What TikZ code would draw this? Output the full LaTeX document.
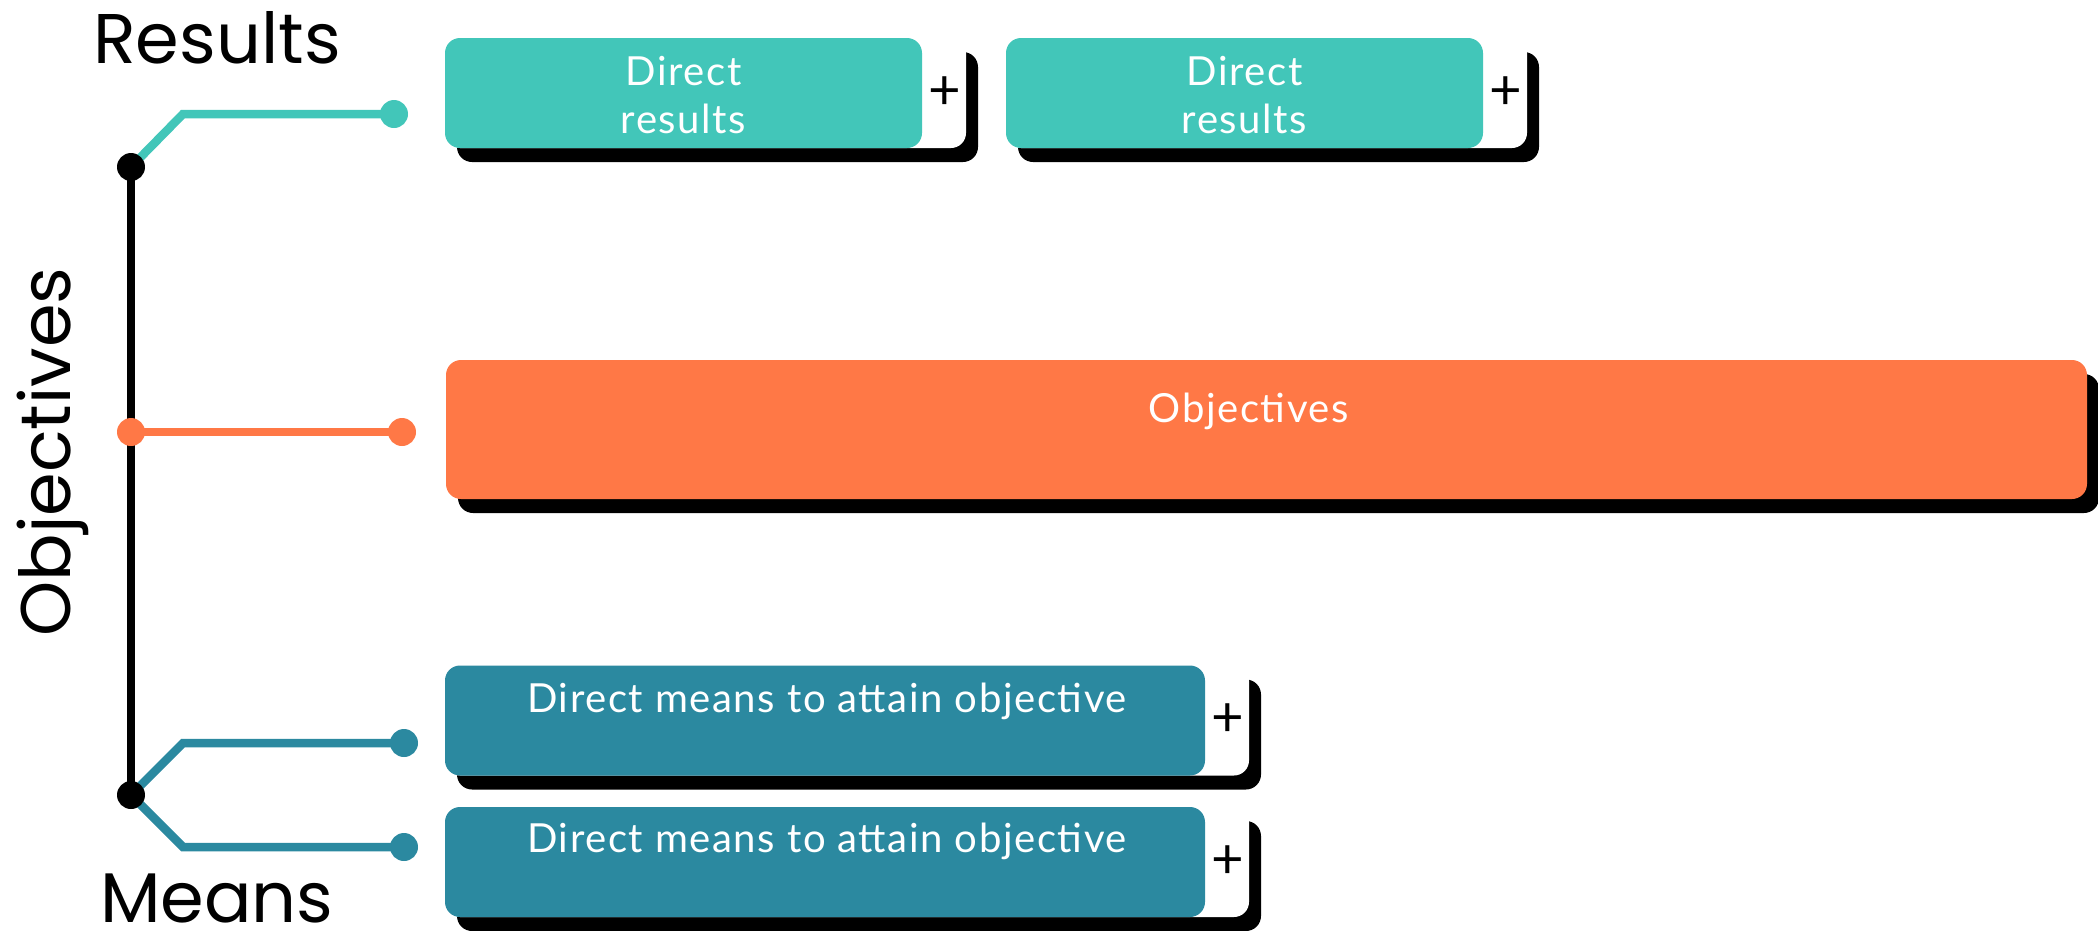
\documentclass[tikz,border=0pt]{standalone}
\usepackage{fontspec}
\setmainfont{Lato}
\newfontfamily\cardfont{Lato}[LetterSpace=4]
\newfontfamily\headfont{Poppins}
\usetikzlibrary{shadows,positioning}
\definecolor{resteal}{RGB}{66,198,185}
\definecolor{objorange}{RGB}{255,120,70}
\definecolor{meanblue}{RGB}{43,137,160}
\tikzset{
  card/.style={rounded corners=1.5mm, inner sep=0pt, minimum height=11mm,
    drop shadow={shadow xshift=1.2mm, shadow yshift=-1.4mm, fill=black, opacity=1}},
  tabcard/.style={card, fill=white, path picture={
    \fill[#1] (path picture bounding box.south west) rectangle ([xshift=-4.4mm]path picture bounding box.north east);}},
  cardtext/.style={text=white, align=center, font=\cardfont\fontsize{11.4}{13.6}\selectfont},
  plussign/.style={font=\fontsize{16}{16}\selectfont},
  sidelabel/.style={inner sep=0pt, font=\headfont\fontsize{20}{20}\selectfont},
  dot/.style={circle, fill=#1, inner sep=0pt, minimum size=2.8mm},
  branch/.style={draw=#1, line width=0.85mm}
}
\begin{document}
\begin{tikzpicture}[x=0.1mm, y=-0.1mm]
    \useasboundingbox (0,0) rectangle (2098,931);
    % Side labels
    \node[sidelabel, anchor=base] (reslabel) at (217,63) {Results};
    \node[sidelabel, anchor=base] (meanlabel) at (217,922) {Means};
    \node[sidelabel, anchor=base, rotate=90] (objlabel) at (70,452) {Objectives};
    % Joints on the spine and loose ends of the branches
    \coordinate (resjoint) at (131,167);
    \coordinate (objjoint) at (131,432);
    \coordinate (meanjoint) at (131,795);
    \coordinate (resend) at (394,114);
    \coordinate (objend) at (402,432);
    \coordinate (meanendA) at (404,743);
    \coordinate (meanendB) at (404,847);
    % Branches
    \draw[branch=resteal] (resjoint) -- ++(52,-53) -- (resend);
    \draw[branch=objorange] (objjoint) -- (objend);
    \draw[branch=meanblue] (meanjoint) -- ++(52,-52) -- (meanendA);
    \draw[branch=meanblue] (meanjoint) -- ++(52,52) -- (meanendB);
    \draw[line width=0.8mm] (resjoint) -- (meanjoint);
    \foreach \p/\c in {resjoint/black, objjoint/objorange, meanjoint/black,
                       resend/resteal, objend/objorange, meanendA/meanblue, meanendB/meanblue} {
      \node[dot=\c] (\p dot) at (\p) {};
    }
    % Cards
    \node[tabcard=resteal, minimum width=52.1mm] (resA) at (705.5,93) {};
    \node[tabcard=resteal, minimum width=52.1mm] (resB) at (1266.5,93) {};
    \node[card, fill=objorange, minimum width=164.1mm, minimum height=13.9mm] (objcard) at (1266.5,429.5) {};
    \node[tabcard=meanblue, minimum width=80.4mm] (meanA) at (847,720.5) {};
    \node[tabcard=meanblue, minimum width=80.4mm] (meanB) at (847,862) {};
    % Card texts
    \node[cardtext] (resAtext) at ([xshift=-2.2mm, yshift=-0.2mm]resA.center) {Direct\\results};
    \node[cardtext] (resBtext) at ([xshift=-2.2mm, yshift=-0.2mm]resB.center) {Direct\\results};
    \node[cardtext, anchor=base] (objtext) at (1249,422) {Objectives};
    \node[cardtext, anchor=base] (meanAtext) at (827,712) {Direct means to attain objective};
    \node[cardtext, anchor=base] (meanBtext) at (827,852) {Direct means to attain objective};
    % Plus tabs
    \foreach \c in {resA, resB, meanA, meanB} {
      \node[plussign] (\c plus) at ([xshift=-2.2mm]\c.east) {+};
    }
\end{tikzpicture}
\end{document}
